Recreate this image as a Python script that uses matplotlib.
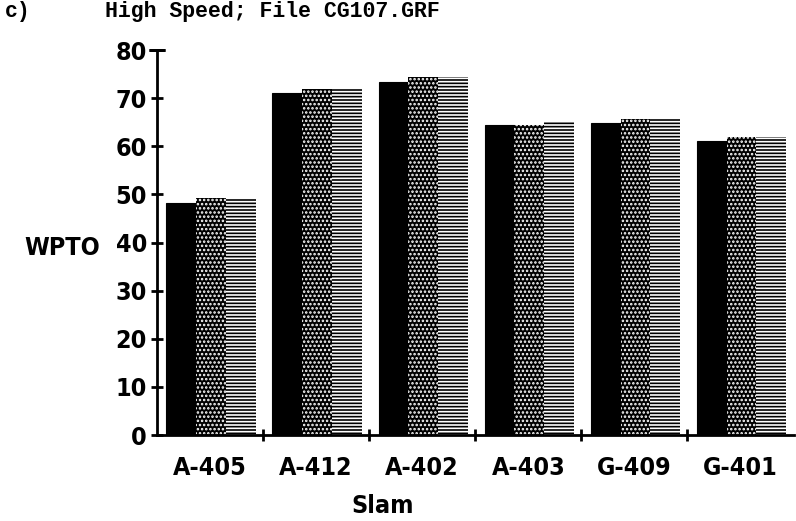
import matplotlib
matplotlib.use("Agg")
import matplotlib.pyplot as plt
import numpy as np

# slams and the three WPTO series
slams = ["A-405", "A-412", "A-402", "A-403", "G-409", "G-401"]
wpto_a = [48.3, 71.0, 73.4, 64.5, 64.8, 61.0]
wpto_b = [49.2, 71.8, 74.3, 64.5, 65.6, 61.9]
wpto_c = [49.2, 71.8, 74.3, 65.2, 65.6, 61.9]
yticks = [0, 10, 20, 30, 40, 50, 60, 70, 80]

plt.rcParams['hatch.linewidth'] = 1.2
narrow = dict(family='DejaVu Sans', fontstretch='condensed', fontweight='bold', fontsize=18)
mono = ['Liberation Mono', 'DejaVu Sans Mono']

fig = plt.figure(figsize=(7.96, 5.21), dpi=100)
ax = fig.add_axes([0.197, 0.165, 0.80, 0.739])

x = np.arange(1, len(slams) + 1)
w = 0.28
ax.bar(x - w + 0.01, wpto_a, w, color='black', edgecolor='black', linewidth=0.8)
ax.bar(x + 0.01, wpto_b, w, color='black', edgecolor='white', hatch='....', linewidth=0)
ax.bar(x + w + 0.01, wpto_c, w, color='black', edgecolor='white', hatch='-----', linewidth=0)

ax.set_xlim(0.5, 6.5)
ax.set_ylim(0, 80)
ax.spines['top'].set_visible(False)
ax.spines['right'].set_visible(False)
ax.spines['left'].set_linewidth(2)
ax.spines['bottom'].set_linewidth(2)

ax.set_yticks(yticks)
ax.set_yticklabels([str(v) for v in yticks], **narrow)
ax.tick_params(axis='y', direction='inout', length=8, width=2, pad=3)

ax.set_xticks(x)
ax.set_xticklabels(slams, **narrow)
ax.set_xticks(x[:-1] + 0.5, minor=True)
ax.tick_params(axis='x', which='major', length=0, pad=15)
ax.tick_params(axis='x', which='minor', direction='inout', length=8, width=2)

# T cap at the top of the y axis
ax.plot([0.5, 0.5], [80, 80], marker='_', markersize=12, mew=2, color='black', clip_on=False)

fig.text(100 / 796, 1 - 248 / 521, "WPTO", ha='right', va='center', **narrow)
fig.text(383 / 796, 1 - 506 / 521, "Slam", ha='center', va='center', **narrow)

fig.text(0.006, 0.977, "c)", family=mono, fontweight='bold', fontsize=15.5, va='center')
fig.text(0.132, 0.977, "High Speed; File CG107.GRF", family=mono, fontweight='bold',
         fontsize=15.5, va='center')

fig.savefig("out.png", dpi=100)
